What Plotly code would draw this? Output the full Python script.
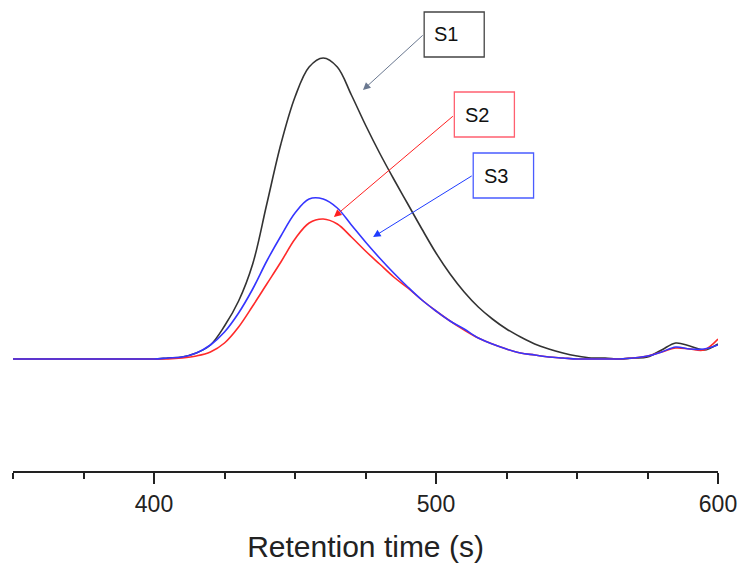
import plotly.graph_objects as go

# Retention time (s)
time_s = [350, 355, 360, 365, 370, 375, 380, 385, 390, 395,
          400, 405, 410, 415, 420, 425, 430, 435, 440, 445,
          450, 455, 460, 465, 470, 475, 480, 485, 490, 495,
          500, 505, 510, 515, 520, 525, 530, 535, 540, 545,
          550, 555, 560, 565, 570, 575, 580, 585, 590, 595, 600]

s1 = [0, 0, 0, 0, 0, 0, 0, 0, 0, 0,
      0, 1, 2, 6, 14, 33, 58, 95, 155, 215,
      262, 292, 301, 292, 264, 234, 206, 180, 155, 130,
      106, 85, 67, 52, 40, 30, 22, 15, 10, 6,
      3, 1, 1, 0, 1, 2, 9, 16, 13, 9, 15]

s2 = [0, 0, 0, 0, 0, 0, 0, 0, 0, 0,
      0, 0, 1, 3, 7, 16, 32, 53, 75, 97,
      120, 136, 140, 135, 122, 108, 95, 82, 71, 59,
      48, 38, 29, 21, 15, 10, 6, 4, 2, 1,
      0, 0, 0, 0, 1, 3, 7, 11, 10, 9, 20]

s3 = [0, 0, 0, 0, 0, 0, 0, 0, 0, 0,
      0, 1, 2, 6, 14, 27, 46, 70, 98, 123,
      146, 160, 160, 151, 134, 117, 101, 86, 72, 59,
      48, 38, 30, 21, 15, 10, 6, 4, 2, 1,
      0, 0, 0, 0, 1, 3, 7, 12, 10, 10, 14]

series_names = ["S1", "S2", "S3"]
series_colors = ["#333333", "#ff2a2a", "#3535ff"]
box_colors = ["#444444", "#ff6070", "#4a5cff"]
arrow_colors = ["#6a7890", "#ff2020", "#1f3cff"]

x_major_ticks = [400, 500, 600]

fig = go.Figure()
for name, vals, col in [("S1", s1, series_colors[0]),
                        ("S2", s2, series_colors[1]),
                        ("S3", s3, series_colors[2])]:
    fig.add_trace(go.Scatter(x=time_s, y=vals, mode="lines", name=name,
                             line=dict(color=col, width=1.6, shape="spline", smoothing=1.0)))

# label boxes (data coords) and arrows
boxes = [
    dict(x0=495.8, x1=517.1, y0=302, y1=347, tx=503.6, ty=325, ax=495.8, ay=325, hx=474.1, hy=269),
    dict(x0=506.5, x1=527.8, y0=222, y1=267, tx=514.7, ty=244, ax=506.5, ay=244, hx=463.8, hy=142),
    dict(x0=513.2, x1=534.6, y0=161, y1=206, tx=521.4, ty=183.5, ax=513.2, ay=184, hx=477.7, hy=122),
]
for i, b in enumerate(boxes):
    fig.add_shape(type="rect", xref="x", yref="y", x0=b["x0"], x1=b["x1"], y0=b["y0"], y1=b["y1"],
                  line=dict(color=box_colors[i], width=1.3), fillcolor="white")
    fig.add_annotation(x=b["tx"], y=b["ty"], xref="x", yref="y", text=series_names[i], showarrow=False,
                       font=dict(family="Arial, Liberation Sans", size=20, color="#111111"))
    fig.add_annotation(x=b["hx"], y=b["hy"], xref="x", yref="y", ax=b["ax"], ay=b["ay"],
                       axref="x", ayref="y", text="", showarrow=True, arrowhead=2, arrowsize=1.5,
                       arrowwidth=1, arrowcolor=arrow_colors[i], standoff=0, startstandoff=0)

fig.update_layout(
    width=739, height=563,
    margin=dict(l=13, r=21, t=0, b=92),
    plot_bgcolor="white", paper_bgcolor="white",
    showlegend=False,
    font=dict(family="Arial, Liberation Sans", color="#222222"),
    xaxis=dict(
        range=[350, 600], showgrid=False, zeroline=False,
        showline=True, linecolor="#222222", linewidth=2,
        ticks="outside", ticklen=11, tickwidth=2, tickcolor="#222222",
        tickvals=x_major_ticks, ticktext=[str(v) for v in x_major_ticks],
        tickfont=dict(size=23, color="#222222"),
        ticklabelstandoff=0,
        minor=dict(dtick=25, tick0=350, ticks="outside", ticklen=6, tickwidth=2, tickcolor="#222222", showgrid=False),
        title=dict(text="Retention time (s)", font=dict(size=30, color="#222222"), standoff=22),
        automargin=False,
    ),
    yaxis=dict(range=[-112, 359], visible=False),
)

fig.write_html("out.html", config={"displayModeBar": False},
               post_script="document.body.style.margin='0';document.body.style.padding='0';")
